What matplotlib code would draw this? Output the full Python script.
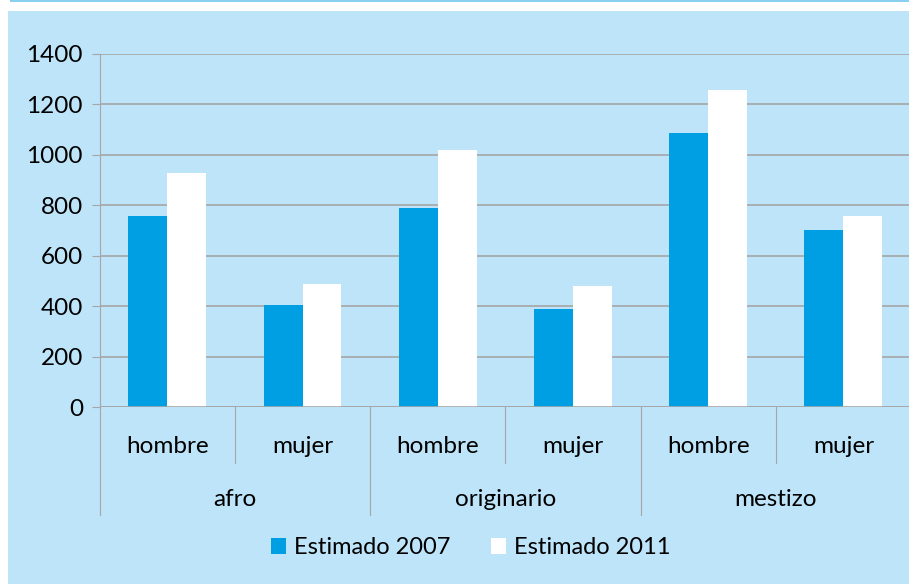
import matplotlib.pyplot as plt
from matplotlib.patches import Rectangle

plt.rcParams['font.family'] = ['Lato', 'DejaVu Sans']

groups = ["afro", "originario", "mestizo"]
sexes = ["hombre", "mujer"]
est_2007 = [758, 405, 790, 390, 1087, 703]
est_2011 = [929, 489, 1020, 482, 1258, 759]
series_names = ["Estimado 2007", "Estimado 2011"]
yticks = [0, 200, 400, 600, 800, 1000, 1200, 1400]

panel = "#BDE4F9"
blue = "#009FE3"
grid = "#A6A6A6"

fig = plt.figure(figsize=(9.09, 5.84), dpi=100)
fig.patch.set_facecolor("white")
# background panel and top strip
fig.add_artist(Rectangle((8 / 909, 0), 1, 1 - 10.5 / 584, transform=fig.transFigure,
                         facecolor=panel, edgecolor="none", zorder=0))
fig.add_artist(Rectangle((10 / 909, 1 - 2 / 584), 1, 2 / 584, transform=fig.transFigure,
                         facecolor="#88CFF0", edgecolor="none", zorder=0))

ax = fig.add_axes([99.7 / 909, 1 - 407.3 / 584, 811.3 / 909, 353.3 / 584])
ax.set_facecolor("none")

x = list(range(len(est_2007)))
w = 0.288
b1 = ax.bar([i - w / 2 for i in x], est_2007, w, color=blue, zorder=3, label=series_names[0])
b2 = ax.bar([i + w / 2 for i in x], est_2011, w, color="white", zorder=3, label=series_names[1])

ax.set_xlim(-0.5, len(x) - 0.5)
ax.set_ylim(0, 1400)
ax.set_yticks(yticks)
ax.tick_params(axis="y", labelsize=17.5, length=6, color=grid, pad=6)
ax.set_xticks([])
ax.yaxis.grid(True, color=grid, linewidth=1.2, zorder=0)
for s in ["top", "right", "bottom"]:
    ax.spines[s].set_visible(False)
ax.spines["left"].set_color(grid)
ax.axhline(0, color=grid, linewidth=1.2, zorder=4)

# multi-level category axis
tr = ax.get_xaxis_transform()
for i in range(len(x) + 1):
    outer = i % 2 == 0
    y_end = -0.305 if outer else -0.158
    ax.plot([i - 0.5, i - 0.5], [0, y_end], transform=tr, color=grid,
            linewidth=0.8, clip_on=False)
for i in x:
    ax.text(i, -0.112, sexes[i % 2], transform=tr, ha="center", va="center", fontsize=17.5)
for g, name in enumerate(groups):
    ax.text(2 * g + 0.5, -0.262, name, transform=tr, ha="center", va="center", fontsize=17.5)

leg = fig.legend(handles=[b1, b2], loc="center", bbox_to_anchor=(0.518, 1 - 548 / 584),
                 ncol=2, frameon=False, fontsize=17, handlelength=0.65, handleheight=0.65,
                 handletextpad=0.35, columnspacing=1.7)

fig.savefig("out.png", dpi=100)
